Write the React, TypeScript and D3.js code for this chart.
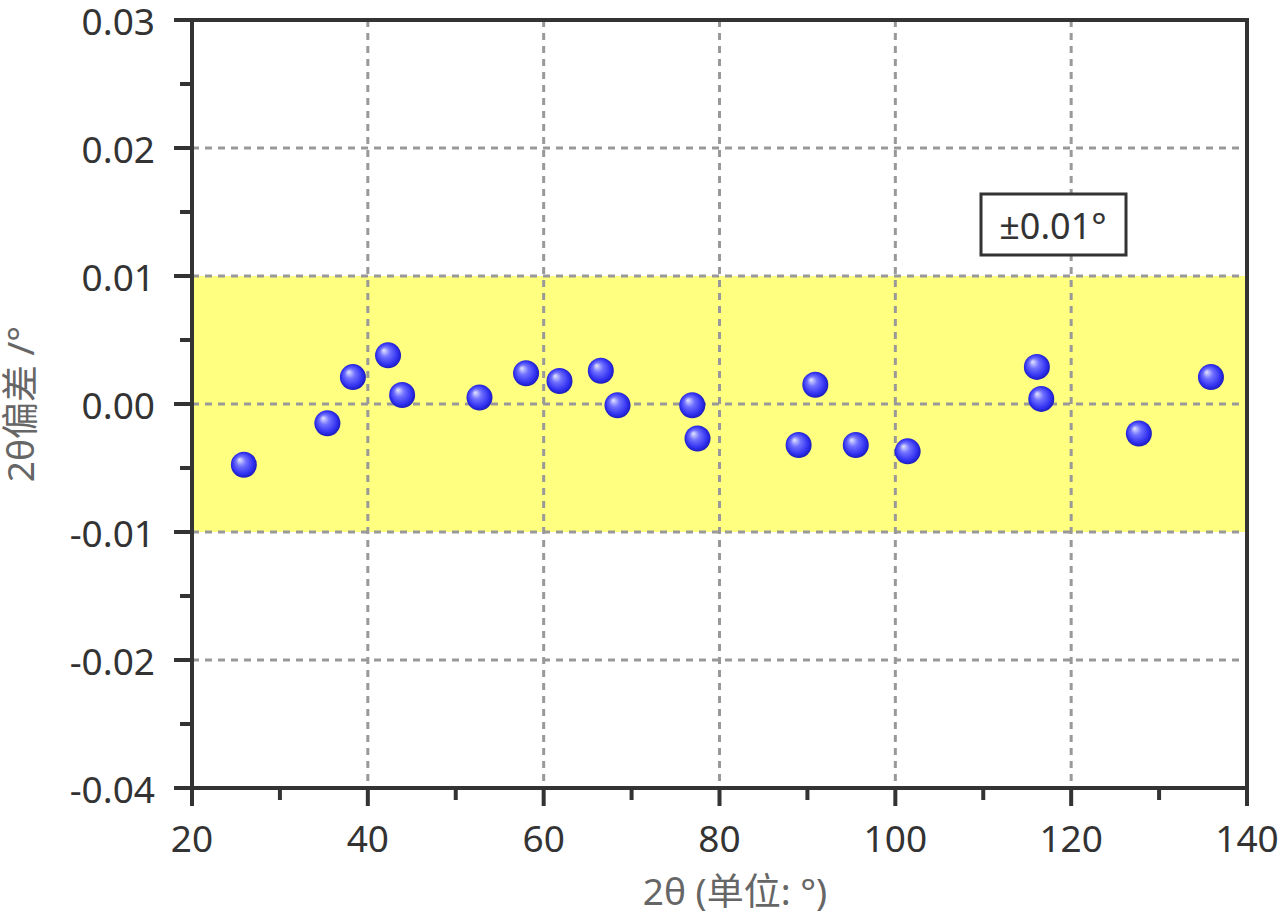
import * as d3 from "d3";

const X_DOMAIN: [number, number] = [20, 140];
const Y_DOMAIN: [number, number] = [-0.03, 0.03];
const X_TICKS = [20, 40, 60, 80, 100, 120, 140];
const X_MINOR = [30, 50, 70, 90, 110, 130];
const Y_TICKS = [-0.03, -0.02, -0.01, 0, 0.01, 0.02, 0.03];
// the bottom tick is printed as -0.04 in the original figure
const Y_TICK_LABELS = ["-0.04", "-0.02", "-0.01", "0.00", "0.01", "0.02", "0.03"];
const Y_MINOR = [-0.025, -0.015, -0.005, 0.005, 0.015, 0.025];
const BAND = [-0.01, 0.01];

const twoTheta = [
  25.9, 35.4, 38.3, 42.3, 43.9, 52.7, 58.0, 61.8, 66.5, 68.4,
  76.9, 77.5, 89.0, 90.9, 95.5, 101.4, 116.1, 116.6, 127.7, 135.9,
];
const deviation = [
  -0.00475, -0.0015, 0.0021, 0.0038, 0.0007, 0.0005, 0.0024, 0.0018, 0.0026, -0.0001,
  -0.0001, -0.0027, -0.0032, 0.0015, -0.0032, -0.0037, 0.0029, 0.0004, -0.0023, 0.0021,
];

const WIDTH = 1280;
const HEIGHT = 920;
const MARGIN = { top: 20, right: 33, bottom: 132, left: 192 };
const FONT = '"Noto Sans", "Noto Sans CJK SC", sans-serif';
const AXIS = "#333333";

export default function App() {
  const x = d3
    .scaleLinear()
    .domain(X_DOMAIN)
    .range([MARGIN.left, WIDTH - MARGIN.right]);
  const y = d3
    .scaleLinear()
    .domain(Y_DOMAIN)
    .range([HEIGHT - MARGIN.bottom, MARGIN.top]);

  const x0 = MARGIN.left;
  const x1 = WIDTH - MARGIN.right;
  const y0 = HEIGHT - MARGIN.bottom;
  const y1 = MARGIN.top;

  const points = twoTheta.map((t, i) => ({ t, d: deviation[i] }));

  return (
    <svg
      width={WIDTH}
      height={HEIGHT}
      style={{ position: "absolute", left: 0, top: 0, background: "#fff" }}
      fontFamily={FONT}
    >
      <defs>
        <radialGradient id="ball" cx="0.5" cy="0.5" r="0.55" fx="0.33" fy="0.3">
          <stop offset="0" stopColor="#e4e6ff" />
          <stop offset="0.35" stopColor="#7070ff" />
          <stop offset="0.75" stopColor="#3030f0" />
          <stop offset="1" stopColor="#1414a8" />
        </radialGradient>
      </defs>

      {/* tolerance band */}
      <rect
        x={x0}
        y={y(BAND[1])}
        width={x1 - x0}
        height={y(BAND[0]) - y(BAND[1])}
        fill="#ffff80"
      />

      {/* grid */}
      <g stroke="#999" strokeWidth={3} strokeDasharray="7,6">
        {X_TICKS.slice(1, -1).map((t) => (
          <line key={t} x1={x(t)} x2={x(t)} y1={y1} y2={y0} />
        ))}
        {Y_TICKS.slice(1, -1).map((t) => (
          <line key={t} x1={x0} x2={x1} y1={y(t)} y2={y(t)} />
        ))}
      </g>

      {/* frame */}
      <rect
        x={x0}
        y={y1}
        width={x1 - x0}
        height={y0 - y1}
        fill="none"
        stroke={AXIS}
        strokeWidth={4}
      />

      {/* ticks */}
      <g stroke={AXIS} strokeWidth={4}>
        {X_TICKS.map((t) => (
          <line key={t} x1={x(t)} x2={x(t)} y1={y0} y2={y0 + 18} />
        ))}
        {X_MINOR.map((t) => (
          <line key={t} x1={x(t)} x2={x(t)} y1={y0} y2={y0 + 12} />
        ))}
        {Y_TICKS.map((t) => (
          <line key={t} x1={x0 - 18} x2={x0} y1={y(t)} y2={y(t)} />
        ))}
        {Y_MINOR.map((t) => (
          <line key={t} x1={x0 - 12} x2={x0} y1={y(t)} y2={y(t)} />
        ))}
      </g>

      <g fill={AXIS} fontSize={37}>
        {X_TICKS.map((t) => (
          <text key={t} x={x(t)} y={y0 + 64} textAnchor="middle">
            {t}
          </text>
        ))}
        {Y_TICKS.map((t, i) => (
          <text
            key={t}
            x={x0 - 37}
            y={y(t)}
            textAnchor="end"
            dominantBaseline="central"
          >
            {Y_TICK_LABELS[i]}
          </text>
        ))}
      </g>

      {/* axis titles */}
      <text x={735} y={905} textAnchor="middle" fontSize={37} fill="#666">
        2θ (单位: °)
      </text>
      <text
        transform={`translate(34,${y(0)}) rotate(-90)`}
        textAnchor="middle"
        fontSize={37}
        fill="#666"
      >
        2θ偏差 /°
      </text>

      {/* label box */}
      <rect
        x={981}
        y={194}
        width={145}
        height={61}
        fill="#fff"
        stroke={AXIS}
        strokeWidth={3}
      />
      <text
        x={1053}
        y={225}
        textAnchor="middle"
        dominantBaseline="central"
        fontSize={36}
        fill={AXIS}
      >
        ±0.01°
      </text>

      {/* points */}
      <g>
        {points.map((p, i) => (
          <circle key={i} cx={x(p.t)} cy={y(p.d)} r={13} fill="url(#ball)" />
        ))}
      </g>
    </svg>
  );
}
